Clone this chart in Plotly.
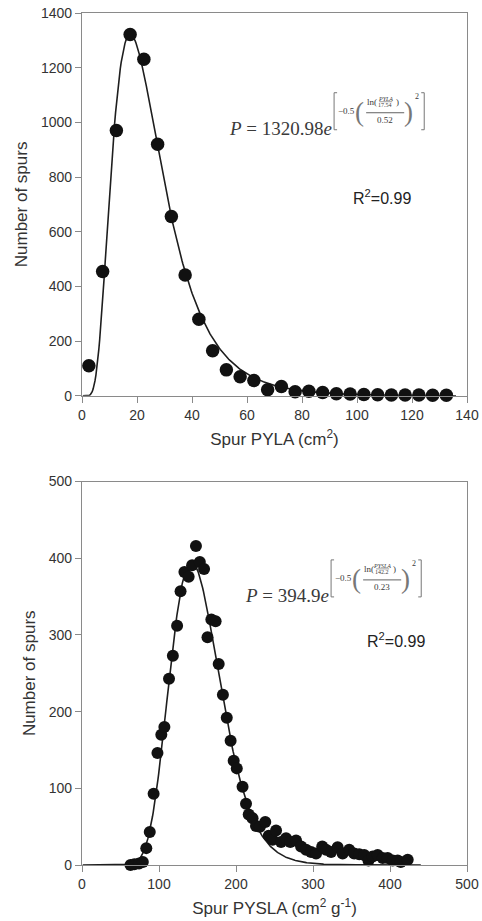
import numpy as np
import plotly.graph_objects as go

# ---------------- data ----------------
pyla_x = [2.5, 7.5, 12.5, 17.5, 22.5, 27.5, 32.5, 37.5, 42.5, 47.5, 52.5, 57.5, 62.5, 67.5,
          72.5, 77.5, 82.5, 87.5, 92.5, 97.5, 102.5, 107.5, 112.5, 117.5, 122.5, 127.5, 132.5]
pyla_n = [110, 455, 970, 1321, 1231, 920, 656, 442, 280, 165, 95, 70, 56, 22,
          34, 15, 17, 12, 8, 7, 5, 4, 3, 3, 3, 2, 2]

pysla_x = [63, 68, 74, 79, 83.5, 88, 93, 98, 103, 107, 113, 118, 123.5, 128, 133, 138.5, 143, 148,
           153, 158.5, 163, 168, 173.5, 177.5, 183, 188, 193, 197, 201, 208.5, 213, 216.5, 221.5,
           226, 231, 238, 242.5, 247.5, 252, 258.5, 265, 270.5, 278, 284.5, 291, 297.5, 304, 312,
           317, 323.5, 332, 338.5, 347, 353.5, 360, 366.5, 372, 377.5, 384, 390.5, 397, 403.5,
           410, 414, 423]
pysla_n = [0, 1, 2, 4, 22, 43, 93, 146, 170, 180, 243, 273, 312, 357, 382, 376, 391, 416,
           395, 386, 297, 320, 318, 262, 222, 192, 162, 136, 126, 102, 80, 66, 61,
           51, 50, 56, 38, 33, 45, 30, 35, 30, 32, 24, 20, 17, 15, 24,
           20, 17, 23, 15, 20, 15, 14, 13, 6, 11, 13, 9, 9, 6,
           6, 4, 7]

# fitted log-normal parameters shown in the figure: P = a*exp(-0.5*(ln(x/x0)/b)^2)
fit_top = dict(a=1320.98, x0=17.54, b=0.52)
fit_bot = dict(a=394.9, x0=142.2, b=0.23)

top_xticks = [0, 20, 40, 60, 80, 100, 120, 140]
top_yticks = [0, 200, 400, 600, 800, 1000, 1200, 1400]
bot_xticks = [0, 100, 200, 300, 400, 500]
bot_yticks = [0, 100, 200, 300, 400, 500]


def lognorm(x, p):
    x = np.asarray(x, dtype=float)
    return p["a"] * np.exp(-0.5 * (np.log(x / p["x0"]) / p["b"]) ** 2)


xt = np.linspace(0.3, 136, 400)
xb = np.linspace(1, 440, 500)

# ---------------- layout helpers ----------------
W, H = 482, 921
L, R, T, B = 82.3, 466.7, 13.3, 865.0


def pp(xp, yp):
    return (xp - L) / (R - L), (B - yp) / (B - T)


TOP_DOM = [(B - 396.0) / (B - T), 1.0]
BOT_DOM = [0.0, (B - 481.7) / (B - T)]

fig = go.Figure()
fig.add_trace(go.Scatter(x=xt, y=lognorm(xt, fit_top), mode="lines",
                         line=dict(color="#1e1e1e", width=1.6), xaxis="x", yaxis="y",
                         cliponaxis=True, showlegend=False, hoverinfo="skip"))
fig.add_trace(go.Scatter(x=pyla_x, y=pyla_n, mode="markers",
                         marker=dict(color="#111111", size=13.5), xaxis="x", yaxis="y",
                         cliponaxis=False, showlegend=False))
fig.add_trace(go.Scatter(x=xb, y=lognorm(xb, fit_bot), mode="lines",
                         line=dict(color="#1e1e1e", width=1.6), xaxis="x2", yaxis="y2",
                         cliponaxis=True, showlegend=False, hoverinfo="skip"))
fig.add_trace(go.Scatter(x=pysla_x, y=pysla_n, mode="markers",
                         marker=dict(color="#111111", size=12), xaxis="x2", yaxis="y2",
                         cliponaxis=False, showlegend=False))

axis_common = dict(showline=True, linecolor="#8a8a8a", linewidth=1.3, mirror=True,
                   ticks="outside", ticklen=6, tickcolor="#8a8a8a", tickwidth=1.3,
                   showgrid=False, zeroline=False, automargin=False,
                   tickfont=dict(family="Liberation Sans, Arial", size=14, color="#333333"))
title_font = dict(family="Liberation Sans, Arial", size=17, color="#333333")

fig.update_layout(
    width=W, height=H,
    margin=dict(l=L, r=W - R, t=T, b=H - B),
    paper_bgcolor="white", plot_bgcolor="white",
    xaxis=dict(axis_common, domain=[0, 1], anchor="y", range=[0, 140], tickvals=top_xticks,
               title=dict(text="Spur PYLA (cm<sup>2</sup>)", font=title_font, standoff=11)),
    yaxis=dict(axis_common, domain=TOP_DOM, anchor="x", range=[0, 1400], tickvals=top_yticks,
               title=dict(text="Number of spurs", font=title_font, standoff=8)),
    xaxis2=dict(axis_common, domain=[0, 1], anchor="y2", range=[0, 500], tickvals=bot_xticks,
                title=dict(text="Spur PYSLA (cm<sup>2</sup> g<sup>-1</sup>)", font=title_font, standoff=11)),
    yaxis2=dict(axis_common, domain=BOT_DOM, anchor="x2", range=[0, 500], tickvals=bot_yticks,
                title=dict(text="Number of spurs", font=title_font, standoff=8)),
)

serif = "Liberation Serif, Times New Roman, serif"
sans = "Liberation Sans, Arial, sans-serif"
eq_col = "#3a3a3a"
br_col = "#777777"

annotations = []
shapes = []


def txt(xp, yp, text, size, family=serif, color=eq_col, xanchor="center"):
    x, y = pp(xp, yp)
    annotations.append(dict(x=x, y=y, xref="paper", yref="paper", text=text, showarrow=False,
                            xanchor=xanchor, yanchor="middle",
                            font=dict(family=family, size=size, color=color), borderpad=0))


def hline(x0p, x1p, yp, color=eq_col, w=0.8):
    x0, y = pp(x0p, yp)
    x1, _ = pp(x1p, yp)
    shapes.append(dict(type="line", xref="paper", yref="paper", x0=x0, x1=x1, y0=y, y1=y,
                       line=dict(color=color, width=w)))


def bracket(xp, y0p, y1p, side):
    d = 3 if side == "left" else -3
    a = pp(xp + d, y0p)
    b = pp(xp, y0p)
    c = pp(xp, y1p)
    e = pp(xp + d, y1p)
    path = f"M {a[0]},{a[1]} L {b[0]},{b[1]} L {c[0]},{c[1]} L {e[0]},{e[1]}"
    shapes.append(dict(type="path", xref="paper", yref="paper", path=path,
                       line=dict(color=br_col, width=1.0)))


def equation(main_text, ex_right, yb, num_top, num_bot, den, r2_xy):
    # main part: "P = ...e", right anchored at the bracket
    txt(ex_right, yb, main_text, 19, xanchor="right")
    top = yb - 36
    bracket(ex_right + 1, top, yb + 1, "left")
    bracket(ex_right + 91, top, yb + 1, "right")
    mid = (top + yb) / 2 + 1
    txt(ex_right + 13, mid - 1, "\u22120.5", 9)
    txt(ex_right + 26, mid, "(", 27, color=br_col)
    txt(ex_right + 75, mid, ")", 27, color=br_col)
    # fraction
    hline(ex_right + 33, ex_right + 71, mid + 1)
    txt(ex_right + 39, mid - 10, "ln(", 9)
    txt(ex_right + 52, mid - 13, f"<i>{num_top}</i>", 6)
    hline(ex_right + 46, ex_right + 59, mid - 10, w=0.5)
    txt(ex_right + 52, mid - 7, num_bot, 6)
    txt(ex_right + 64, mid - 10, ")", 9)
    txt(ex_right + 52, mid + 8, den, 9)
    txt(ex_right + 84, top + 4, "2", 8)
    # R^2
    txt(r2_xy[0], r2_xy[1], "R<sup>2</sup>=0.99", 16, family=sans, color="#222222")


equation("<i>P</i> = 1320.98<i>e</i>", 333, 129, "PYLA", "17.54", "0.52", (382, 197))
equation("<i>P</i> = 394.9<i>e</i>", 330, 596, "PYSLA", "142.2", "0.23", (396, 640))

fig.update_layout(annotations=annotations, shapes=shapes)

fig.write_html("out.html", config={"displayModeBar": False},
               post_script="document.body.style.margin='0';document.body.style.padding='0';")
